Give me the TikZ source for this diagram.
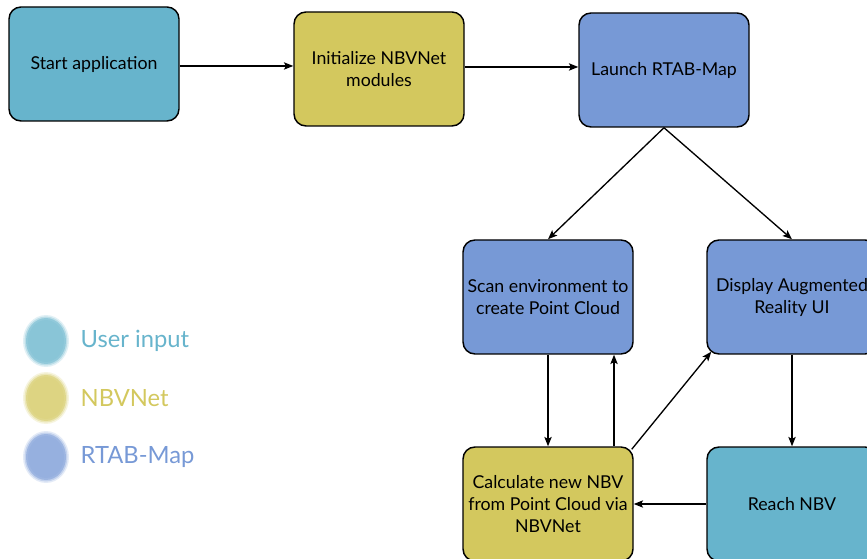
\documentclass[tikz,border=0pt]{standalone}
\usepackage{fontspec}
\setmainfont{Lato}
\usetikzlibrary{arrows.meta,calc}

\definecolor{userc}{HTML}{67B4CC}
\definecolor{netc}{HTML}{D3C85E}
\definecolor{mapc}{HTML}{7799D6}

\tikzset{
  box/.style={draw, line width=1.1pt, rounded corners=9pt, minimum width=127.5pt,
    minimum height=85.5pt, align=center, inner sep=2pt,
    font=\fontsize{13.3}{16.5}\selectfont},
  legtext/.style={anchor=west, font=\fontsize{17.8}{20}\selectfont}
}

\begin{document}
\begin{tikzpicture}[x=0.75pt,y=-0.75pt,>={Stealth[length=7pt,width=5.5pt,inset=1.5pt]}]
\useasboundingbox (0,0) rectangle (867,559);
% boxes
\node[box, fill=userc] (start) at (94,64)  {Start application};
\node[box, fill=netc]  (init)  at (379,69) {Initialize NBVNet\\modules};
\node[box, fill=mapc]  (rtab)  at (664,70) {Launch RTAB-Map};
\node[box, fill=mapc]  (scan)  at (548,297) {Scan environment to\\create Point Cloud};
\node[box, fill=mapc]  (disp)  at (792,297) {Display Augmented\\Reality UI};
\node[box, fill=netc]  (nbv)   at (548,504) {Calculate new NBV\\from Point Cloud via\\NBVNet};
\node[box, fill=userc] (reach) at (792,504) {Reach NBV};
% arrows
\draw [->,line width=1pt] (start.east |- 0,66) -- (init.west |- 0,66);
\draw [->,line width=1pt] (init.east |- 0,67) -- (rtab.west |- 0,67);
\draw [->,line width=1pt] (rtab.south) -- (scan.north);
\draw [->,line width=1pt] (rtab.south) -- (disp.north);
\draw [->,line width=1pt] (scan.south) -- (nbv.north);
\draw [->,line width=1pt] (nbv.north -| 614,0) -- (scan.south -| 614,0);
\draw [->,line width=1pt] ($(nbv.north east)+(-2,3)$) -- ($(disp.south west)+(5,-3)$);
\draw [->,line width=1pt] (disp.south) -- (reach.north);
\draw [->,line width=1pt] (reach.west) -- (nbv.east);
% legend
\foreach \c/\y in {userc/341,netc/398,mapc/457} {
  \fill[\c, opacity=0.2] (46,\y) ellipse (23 and 26);
  \fill[\c, opacity=0.3] (46,\y) ellipse (21.5 and 24.5);
  \fill[\c, opacity=0.5] (46,\y) ellipse (20 and 23);
  \fill[\c!80!white, opacity=0.6] (46,\y) ellipse (18 and 21);
}
\node[legtext, text=userc] (luser) at (76,341) {User input};
\node[legtext, text=netc]  (lnet)  at (76,398) {NBVNet};
\node[legtext, text=mapc]  (lmap)  at (76,457) {RTAB-Map};
\end{tikzpicture}
\end{document}
